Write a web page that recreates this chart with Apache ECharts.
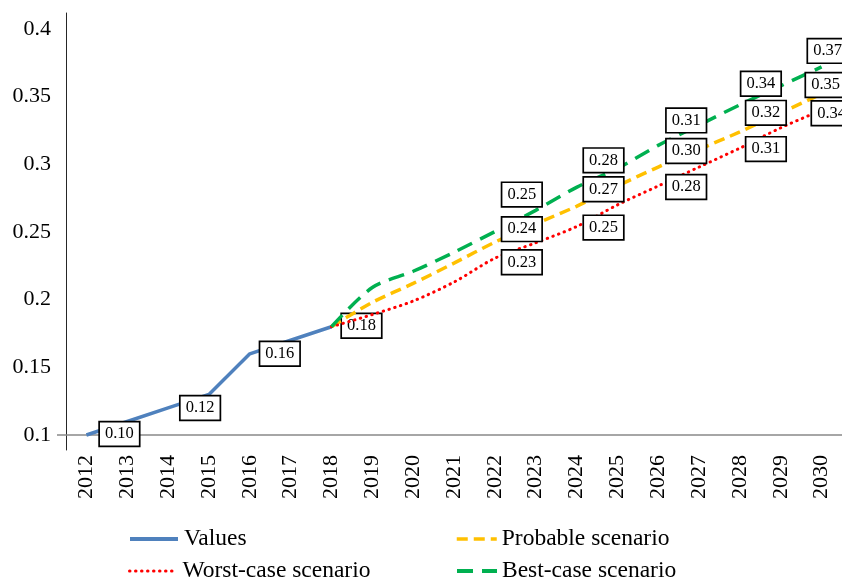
<!DOCTYPE html>
<html>
<head>
<meta charset="utf-8">
<script src="https://cdn.jsdelivr.net/npm/echarts@6/dist/echarts.min.js"></script>
<style>
  html, body { margin: 0; padding: 0; background: #fff; }
  #chart { width: 842px; height: 581px; }
</style>
</head>
<body>
<div id="chart"></div>
<script>
// Years on the horizontal axis
const years = ['2012','2013','2014','2015','2016','2017','2018','2019','2020','2021',
               '2022','2023','2024','2025','2026','2027','2028','2029','2030'];
// Vertical axis labels
const yTicks = [0.1, 0.15, 0.2, 0.25, 0.3, 0.35, 0.4];

// Observed values 2012-2018
const actualValues = [0.10, 0.11, 0.12, 0.13, 0.16, 0.17, 0.18,
                      null, null, null, null, null, null, null, null, null, null, null, null];
// Forecast scenarios 2018-2030
const probableValues = [null, null, null, null, null, null, 0.18,
                        0.198, 0.212, 0.227, 0.2425, 0.256, 0.269, 0.284, 0.298, 0.311, 0.324, 0.338, 0.352];
const worstValues = [null, null, null, null, null, null, 0.18,
                     0.189, 0.199, 0.213, 0.2306, 0.242, 0.254, 0.270, 0.284, 0.298, 0.312, 0.327, 0.340];
const bestValues = [null, null, null, null, null, null, 0.18,
                    0.209, 0.221, 0.235, 0.2503, 0.266, 0.283, 0.297, 0.314, 0.329, 0.344, 0.358, 0.372];

// Where each value box sits relative to its point (index -> [dx, dy])
const labelPlacement = {
  values:   { 0: [33, -1], 2: [32, 0], 4: [30, 0], 6: [30, -1] },
  best:     { 10: [27, -37], 12: [27, -27], 14: [28, -25], 16: [21, -21], 18: [6, -16] },
  probable: { 10: [27, -13], 12: [27, -17], 14: [28, -16], 16: [26, -19], 18: [4, -9] },
  worst:    { 10: [27, 4], 12: [27, 1], 14: [28, 1], 16: [26, 1], 18: [10, 3] }
};

const SERIF = "'Liberation Serif', 'Times New Roman', serif";

const boxLabel = {
  show: true,
  position: 'inside',
  fontFamily: SERIF,
  fontSize: 16.5,
  lineHeight: 18,
  color: '#000',
  backgroundColor: '#fff',
  borderColor: '#000',
  borderWidth: 1.7,
  padding: [3, 5, 2, 5],
  opacity: 1,
  formatter: p => Number(p.value).toFixed(2)
};

function withLabels(values, placement) {
  return values.map((v, i) => {
    if (v == null) return null;
    const off = placement[i];
    if (!off) return v;
    return { value: v, label: Object.assign({}, boxLabel, { offset: off }) };
  });
}

// One legend block per entry, laid out as a 2 x 2 table
function legendEntry(name, left, top, iconWidth, textGap, lineWidth) {
  return {
    data: [name],
    left: left,
    top: top,
    padding: 0,
    itemWidth: iconWidth,
    itemHeight: 14,
    itemStyle: { opacity: 0 },
    lineStyle: { width: lineWidth },
    selectedMode: false,
    textStyle: { fontFamily: SERIF, fontSize: 23.5, color: '#000', padding: [0, 0, 0, textGap] }
  };
}

const chart = echarts.init(document.getElementById('chart'), null, { renderer: 'canvas' });

chart.setOption({
  animation: false,
  backgroundColor: '#fff',
  grid: { left: 66, right: 0, top: 13, bottom: 131, containLabel: false },
  xAxis: {
    type: 'category',
    data: years,
    boundaryGap: true,
    axisLine: { show: false },
    axisTick: { show: false },
    axisLabel: {
      rotate: 90,
      margin: 5,
      interval: 0,
      fontFamily: SERIF,
      fontSize: 22,
      color: '#000'
    },
    splitLine: { show: false }
  },
  yAxis: {
    type: 'value',
    min: 0.088916,
    max: 0.411826,
    axisLine: { show: true, lineStyle: { color: '#262626', width: 1 } },
    axisTick: {
      show: true,
      customValues: [0.1],
      length: 9,
      lineStyle: { color: '#888', width: 1.5 }
    },
    axisLabel: {
      customValues: yTicks,
      margin: 15,
      fontFamily: SERIF,
      fontSize: 22,
      color: '#000',
      formatter: v => String(Math.round(v * 100) / 100)
    },
    splitLine: { show: false }
  },
  legend: [
    legendEntry('Values', 128, 527, 48, 1, 4),
    legendEntry('Worst-case scenario', 128, 559, 48, 0, 3),
    legendEntry('Probable scenario', 455, 527, 40, 0, 3.5),
    legendEntry('Best-case scenario', 455, 559, 40, 0, 4)
  ],
  series: [
    {
      name: 'Values',
      type: 'line',
      data: withLabels(actualValues, labelPlacement.values),
      symbol: 'circle',
      symbolSize: 1,
      showSymbol: true,
      connectNulls: false,
      lineStyle: { color: '#4f81bd', width: 3.5 },
      itemStyle: { color: '#4f81bd', opacity: 0 },
      z: 2,
      markLine: {
        silent: true,
        symbol: ['none', 'none'],
        label: { show: false },
        lineStyle: { color: '#888', width: 1.5, type: 'solid' },
        data: [{ yAxis: yTicks[0] }],
        z: 1
      }
    },
    {
      name: 'Probable scenario',
      type: 'line',
      data: withLabels(probableValues, labelPlacement.probable),
      symbol: 'circle',
      symbolSize: 1,
      showSymbol: true,
      smooth: 0.3,
      lineStyle: { color: '#ffc000', width: 3.5, type: [11, 6] },
      itemStyle: { color: '#ffc000', opacity: 0 },
      z: 3
    },
    {
      name: 'Worst-case scenario',
      type: 'line',
      data: withLabels(worstValues, labelPlacement.worst),
      symbol: 'circle',
      symbolSize: 1,
      showSymbol: true,
      smooth: 0.3,
      lineStyle: { color: '#ff0000', width: 3, type: [0.5, 5.5], cap: 'round' },
      itemStyle: { color: '#ff0000', opacity: 0 },
      z: 3
    },
    {
      name: 'Best-case scenario',
      type: 'line',
      data: withLabels(bestValues, labelPlacement.best),
      symbol: 'circle',
      symbolSize: 1,
      showSymbol: true,
      smooth: 0.3,
      lineStyle: { color: '#00b050', width: 3.5, type: [16, 9] },
      itemStyle: { color: '#00b050', opacity: 0 },
      z: 3
    }
  ]
});
</script>
</body>
</html>
